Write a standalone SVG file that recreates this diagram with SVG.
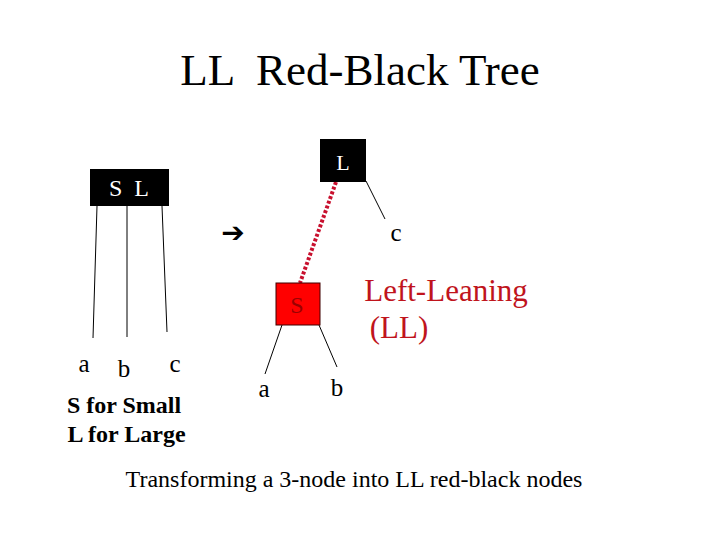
<svg xmlns="http://www.w3.org/2000/svg" width="720" height="540" viewBox="0 0 720 540">
<style>
.t{font-family:"Liberation Serif","Times New Roman",serif;white-space:pre;}
.edge{stroke:#000;stroke-width:1;fill:none;}
.red{stroke:#c8102e;stroke-width:4;stroke-dasharray:3 2;fill:none;}
.lbl{font-size:25px;fill:#000;}
.bold{font-size:24px;font-weight:bold;fill:#000;}
.dr{fill:#c0141c;}
</style>
<rect width="720" height="540" fill="#fff"/>
<text class="t" font-family="Liberation Serif, serif" x="360" y="85" text-anchor="middle" font-size="45" xml:space="preserve">LL  Red-Black Tree</text>
<g id="connectors">
<line class="edge" x1="97" y1="206" x2="93" y2="338"/>
<line class="edge" x1="127" y1="206" x2="127" y2="337"/>
<line class="edge" x1="162" y1="206" x2="167" y2="332"/>
<line class="edge" x1="366" y1="181" x2="385" y2="219"/>
<line class="red" x1="336" y1="182" x2="300" y2="283"/>
<line class="edge" x1="282" y1="325" x2="265" y2="374"/>
<line class="edge" x1="319" y1="325" x2="337" y2="367"/>
</g>
<g id="node-SL">
<rect x="90" y="169" width="79" height="37" fill="#000"/>
<text class="t" font-family="Liberation Serif, serif" x="129" y="196" text-anchor="middle" font-size="24" fill="#fff" xml:space="preserve">S  L</text>
</g>
<g id="node-L">
<rect x="320" y="139" width="46" height="43" fill="#000"/>
<text class="t" font-family="Liberation Serif, serif" x="343" y="170" text-anchor="middle" font-size="22" fill="#fff">L</text>
</g>
<g id="node-S">
<rect x="276" y="283" width="44" height="42" fill="#ff0000" stroke="#400000" stroke-width="1"/>
<text class="t" font-family="Liberation Serif, serif" x="297" y="313" text-anchor="middle" font-size="24" fill="#9a0000">S</text>
</g>
<text x="233" y="241.5" text-anchor="middle" font-family="DejaVu Sans, sans-serif" font-size="28" font-weight="bold">➔</text>
<text class="t lbl" font-family="Liberation Serif, serif" x="396" y="241" text-anchor="middle">c</text>
<text class="t dr" font-family="Liberation Serif, serif" x="446" y="301" text-anchor="middle" font-size="31">Left-Leaning</text>
<text class="t dr" font-family="Liberation Serif, serif" x="399" y="338" text-anchor="middle" font-size="31">(LL)</text>
<text class="t lbl" font-family="Liberation Serif, serif" x="84" y="372" text-anchor="middle">a</text>
<text class="t lbl" font-family="Liberation Serif, serif" x="124" y="377" text-anchor="middle">b</text>
<text class="t lbl" font-family="Liberation Serif, serif" x="175" y="372" text-anchor="middle">c</text>
<text class="t bold" font-family="Liberation Serif, serif" x="124" y="413" text-anchor="middle">S for Small</text>
<text class="t bold" font-family="Liberation Serif, serif" x="126.5" y="442" text-anchor="middle">L for Large</text>
<text class="t lbl" font-family="Liberation Serif, serif" x="264" y="397" text-anchor="middle">a</text>
<text class="t lbl" font-family="Liberation Serif, serif" x="337" y="396" text-anchor="middle">b</text>
<text class="t" font-family="Liberation Serif, serif" x="354" y="487" text-anchor="middle" font-size="24">Transforming a 3-node into LL red-black nodes</text>
</svg>
